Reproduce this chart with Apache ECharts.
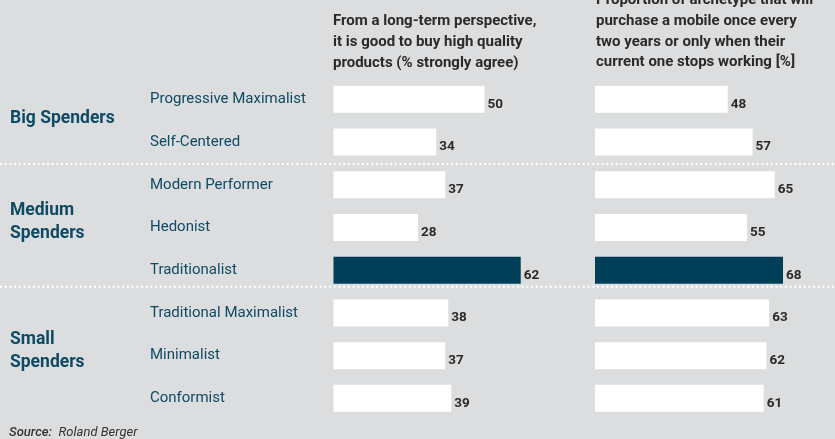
<!DOCTYPE html>
<html>
<head>
<meta charset="utf-8">
<style>
  html, body { margin: 0; padding: 0; background: #dcdddf; }
  #chart { width: 835px; height: 439px; }
</style>
<script src="https://cdn.jsdelivr.net/npm/echarts@6/dist/echarts.min.js"></script>
</head>
<body>
<div id="chart"></div>
<script>
// Archetypes, top to bottom
const archetypes = [
  'Progressive Maximalist', 'Self-Centered',
  'Modern Performer', 'Hedonist', 'Traditionalist',
  'Traditional Maximalist', 'Minimalist', 'Conformist'
];
// "From a long-term perspective, it is good to buy high quality products" (% strongly agree)
const qualityAgree = [50, 34, 37, 28, 62, 38, 37, 39];
// Share that buys a mobile every two years or only when the current one stops working (%)
const replaceRate = [48, 57, 65, 55, 68, 63, 62, 61];
const highlighted = 'Traditionalist';

const groups = [
  { name: 'Big Spenders', y: 119 },
  { name: 'Medium\nSpenders', y: 222 },
  { name: 'Small\nSpenders', y: 351 }
];
const leftHeader = 'From a long-term perspective,\nit is good to buy high quality\nproducts (% strongly agree)';
const rightHeader = 'Proportion of archetype that will\npurchase a mobile once every\ntwo years or only when their\ncurrent one stops working [%]';

const TEAL = '#0e4a63';
const DARK = '#003f58';
const INK = '#2a2a2a';
const FONT = 'Roboto, "Noto Sans", sans-serif';

function barData(values) {
  return values.map((v, i) => ({
    value: v,
    itemStyle: { color: archetypes[i] === highlighted ? DARK : '#ffffff' }
  }));
}

const valueLabel = {
  show: true,
  position: 'right',
  distance: 3,
  offset: [0, 5],
  color: INK,
  fontFamily: FONT,
  fontWeight: 'bold',
  fontSize: 13.5
};

const chart = echarts.init(document.getElementById('chart'), null, { renderer: 'canvas' });

const gridTop = 78, gridBottom = 19.3;

chart.setOption({
  backgroundColor: '#dcdddf',
  animation: false,
  grid: [
    { left: 333.5, top: gridTop, bottom: gridBottom, width: 241.6 },
    { left: 595, top: gridTop, bottom: gridBottom, width: 221.2 }
  ],
  xAxis: [
    { gridIndex: 0, type: 'value', min: 0, max: 80, show: false },
    { gridIndex: 1, type: 'value', min: 0, max: 80, show: false }
  ],
  yAxis: [
    {
      gridIndex: 0, type: 'category', data: archetypes, inverse: true,
      axisLine: { show: false }, axisTick: { show: false }, splitLine: { show: false },
      axisLabel: {
        align: 'left', margin: 183.5, color: TEAL,
        fontFamily: FONT, fontSize: 15, padding: [0, 0, 9, 0]
      }
    },
    {
      gridIndex: 1, type: 'category', data: archetypes, inverse: true,
      axisLine: { show: false }, axisTick: { show: false }, splitLine: { show: false },
      axisLabel: { show: false }
    }
  ],
  series: [
    {
      type: 'bar', xAxisIndex: 0, yAxisIndex: 0, barWidth: 27,
      data: barData(qualityAgree), label: valueLabel, silent: true
    },
    {
      type: 'bar', xAxisIndex: 1, yAxisIndex: 1, barWidth: 27,
      data: barData(replaceRate), label: valueLabel, silent: true
    }
  ],
  graphic: [
    // dotted separators between spender groups
    {
      type: 'line', shape: { x1: 0, y1: 164, x2: 835, y2: 164 },
      style: { stroke: '#ffffff', lineWidth: 2, lineDash: [2, 2.7] }, silent: true
    },
    {
      type: 'line', shape: { x1: 0, y1: 286.7, x2: 835, y2: 286.7 },
      style: { stroke: '#ffffff', lineWidth: 2, lineDash: [2, 2.7] }, silent: true
    },
    // column headers
    {
      type: 'text', x: 333, y: 11.2,
      style: {
        text: leftHeader, fill: INK, lineHeight: 20.8,
        font: 'bold 15px ' + FONT, textVerticalAlign: 'top'
      }
    },
    {
      type: 'text', x: 596, y: -10.2,
      style: {
        text: rightHeader, fill: INK, lineHeight: 20.8,
        font: 'bold 15px ' + FONT, textVerticalAlign: 'top'
      }
    },
    // spender group labels
    ...groups.map(g => ({
      type: 'text', x: 10, y: g.y,
      style: {
        text: g.name, fill: TEAL, lineHeight: 23.3,
        font: 'bold 17.5px ' + FONT, textVerticalAlign: 'middle'
      }
    })),
    // source note
    {
      type: 'text', x: 9, y: 433,
      style: {
        text: '{b|Source:}  {r|Roland Berger}', textVerticalAlign: 'middle',
        rich: {
          b: { fontFamily: FONT, fontStyle: 'italic', fontWeight: 500, fontSize: 13, fill: '#333333' },
          r: { fontFamily: FONT, fontStyle: 'italic', fontSize: 13, fill: '#333333' }
        }
      }
    }
  ]
});
</script>
</body>
</html>
